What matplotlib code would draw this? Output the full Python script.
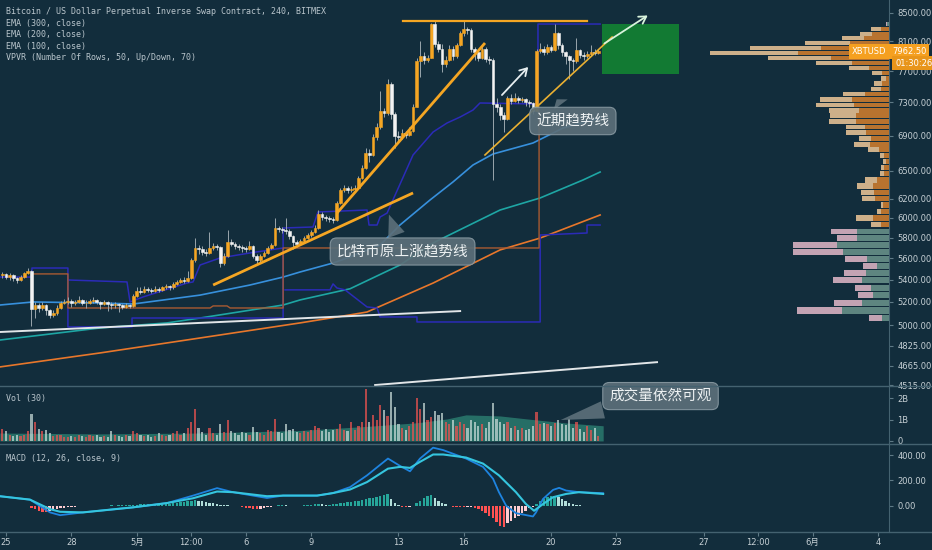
import numpy as np
import matplotlib
matplotlib.use('Agg')
import matplotlib.pyplot as plt
from matplotlib.lines import Line2D
from matplotlib.patches import Rectangle
from matplotlib.ticker import NullLocator, NullFormatter
from matplotlib.transforms import blended_transform_factory as btf

plt.rcParams['font.family'] = ['DejaVu Sans', 'Noto Sans CJK SC']

# ---------------- data (4h candles, first candle at day -1/6 from Apr 25) -------------
first_open = 5440
closes = [5450, 5430, 5445, 5420, 5400, 5430, 5460, 5480,
          5140, 5170, 5150, 5170, 5130, 5090, 5100, 5150, 5190, 5200,
          5210, 5190, 5200, 5215, 5190, 5195, 5210, 5220, 5200, 5180, 5200, 5180, 5170, 5185, 5170, 5160, 5175, 5165,
          5250, 5300, 5290, 5320, 5310, 5300, 5320, 5310, 5330, 5340, 5330, 5360, 5380, 5400, 5390, 5420,
          5580, 5700, 5690, 5660, 5650, 5700, 5720, 5710, 5560, 5620, 5760,
          5740, 5720, 5710, 5700, 5690, 5720, 5620, 5580, 5620, 5650, 5700, 5730,
          5900, 5890, 5880, 5870, 5820, 5760, 5740, 5770, 5800, 5830, 5860, 5900, 6040, 6010, 6000, 5990, 5980,
          6150, 6290, 6310, 6290, 6300, 6310, 6420, 6530, 6700, 6680, 6880, 7000, 7200, 7170, 7530, 7160, 6900, 6880, 6930, 6910, 6950, 7250,
          7840, 7900, 7850, 7880, 8340, 8060, 8000, 7800, 7850, 8000, 7900, 8050, 8210, 8270, 8260, 8000, 7950, 7880, 8000, 7860, 7850,
          7280, 7250, 7150, 7100, 7350, 7320, 7360, 7330, 7340, 7300, 7290, 7190,
          7970, 8000, 7960, 8020, 7980, 8210, 8050, 7950, 7900, 7850, 7830, 7980, 7920, 7900, 7930, 7950, 7940, 7962.5]
highs = [5470, 5465, 5460, 5455, 5430, 5445, 5475, 5510,
         5495, 5200, 5190, 5200, 5180, 5140, 5130, 5170, 5210, 5230,
         5240, 5225, 5220, 5250, 5230, 5215, 5225, 5240, 5230, 5210, 5215, 5210, 5200, 5200, 5195, 5185, 5190, 5185,
         5270, 5330, 5330, 5345, 5330, 5325, 5340, 5330, 5345, 5360, 5355, 5380, 5400, 5420, 5430, 5480,
         5600, 5800, 5730, 5720, 5690, 5860, 5750, 5740, 5720, 5650, 5880,
         5790, 5760, 5740, 5730, 5720, 5770, 5730, 5640, 5640, 5670, 5720, 5750,
         6000, 5920, 5910, 6000, 5890, 5830, 5780, 5790, 5820, 5850, 5880, 5930, 6080, 6060, 6030, 6020, 6010,
         6170, 6310, 6340, 6330, 6330, 6340, 6440, 6560, 6760, 6740, 6920, 7050, 7440, 7230, 7600, 7560, 7180, 6950, 6980, 6960, 7000, 7280,
         7880, 8100, 7950, 7920, 8360, 8380, 8100, 8060, 7900, 8050, 8030, 8080, 8250, 8400, 8300, 8280, 8020, 7990, 8040, 8020, 7900,
         7870, 7350, 7280, 7180, 7380, 7400, 7420, 7380, 7370, 7360, 7330, 7310,
         8000, 8080, 8030, 8060, 8050, 8340, 8230, 8080, 7970, 7920, 7880, 8150, 8000, 7960, 7970, 8050, 7990, 8000]
lows = [5420, 5410, 5400, 5390, 5370, 5390, 5420, 5450,
        4990, 5060, 5110, 5130, 5090, 5060, 5070, 5090, 5140, 5180,
        5180, 5160, 5170, 5190, 5170, 5150, 5180, 5195, 5180, 5140, 5170, 5120, 5140, 5150, 5110, 5140, 5145, 5150,
        5160, 5240, 5270, 5280, 5290, 5280, 5290, 5290, 5300, 5320, 5310, 5320, 5350, 5370, 5370, 5380,
        5410, 5570, 5640, 5630, 5620, 5640, 5680, 5680, 5520, 5540, 5610,
        5720, 5690, 5680, 5660, 5660, 5680, 5600, 5550, 5570, 5610, 5640, 5690,
        5720, 5860, 5850, 5840, 5790, 5690, 5710, 5730, 5760, 5790, 5810, 5850, 5890, 5980, 5970, 5960, 5950,
        5970, 6140, 6270, 6260, 6270, 6280, 6300, 6410, 6520, 6600, 6660, 6850, 6980, 7120, 7150, 7100, 6760, 6820, 6860, 6870, 6890, 6940,
        7240, 7620, 7800, 7820, 7870, 8020, 7950, 7690, 7760, 7840, 7850, 7880, 8030, 8180, 8200, 7960, 7850, 7830, 7860, 7820, 7800,
        6400, 7180, 7080, 6940, 7080, 7280, 7300, 7290, 7300, 7260, 7250, 7160,
        7180, 7940, 7920, 7930, 7950, 7970, 8000, 7900, 7800, 7600, 7700, 7810, 7870, 7850, 7880, 7900, 7920, 7930]
volumes = [0.55, 0.48, 0.3, 0.25, 0.3, 0.25, 0.3, 0.45,
           1.24, 0.87, 0.55, 0.45, 0.5, 0.35, 0.25, 0.3, 0.3, 0.2,
           0.2, 0.25, 0.2, 0.3, 0.25, 0.2, 0.3, 0.25, 0.3, 0.2, 0.25, 0.2, 0.45, 0.3, 0.25, 0.2, 0.3, 0.25,
           0.45, 0.35, 0.3, 0.25, 0.3, 0.2, 0.25, 0.35, 0.3, 0.25, 0.3, 0.35, 0.45, 0.3, 0.35, 0.6,
           0.87, 1.48, 0.6, 0.4, 0.3, 0.6, 0.35, 0.3, 0.79, 0.4, 0.97,
           0.45, 0.35, 0.3, 0.4, 0.35, 0.3, 0.65, 0.4, 0.35, 0.3, 0.5, 0.45,
           1.05, 0.4, 0.35, 0.8, 0.5, 0.55, 0.4, 0.35, 0.45, 0.4, 0.5, 0.7, 0.6, 0.45, 0.55, 0.4, 0.5,
           0.55, 0.8, 0.5, 0.45, 0.9, 0.5, 0.7, 0.9, 2.45, 0.9, 1.2, 1.0, 1.68, 1.47, 1.17, 2.3, 1.6, 0.8, 0.6, 0.5, 0.7, 0.9,
           2.0, 1.5, 1.77, 1.0, 1.1, 1.4, 1.2, 1.3, 0.9, 0.8, 1.0, 0.7, 0.9, 0.8, 0.6, 1.0, 0.9, 0.7, 0.8, 0.6, 0.9,
           1.77, 1.05, 0.9, 0.8, 0.9, 0.6, 0.7, 0.5, 0.6, 0.5, 0.55, 0.7,
           1.36, 0.8, 0.85, 0.8, 0.7, 0.85, 1.0, 0.8, 0.75, 1.05, 0.6, 0.9, 0.55, 0.4, 0.7, 0.5, 0.6, 0.25]
macd_hist = [-5, -5, -6, -5, -4, -5, -3, -2,
             -15, -30, -42, -48, -50, -45, -35, -28, -22, -18,
             -14, -10, -7, -5, -3, -2, 0, 1, 1, 0, -1, 1, 2, 1, 2, 3, 3, 4,
             6, 9, 11, 12, 13, 14, 14, 15, 15, 16, 17, 18, 22, 26, 30, 34,
             38, 42, 40, 35, 30, 24, 18, 12, 7, 3, 2,
             1, 0, -5, -10, -15, -20, -25, -27, -25, -20, -14, -8,
             -2, 2, 4, 3, 1, -2, -3, -1, 2, 5, 8, 10, 11, 10, 8, 9, 10,
             14, 18, 22, 26, 30, 34, 38, 44, 50, 58, 64, 72, 80, 86, 90, 50, 25, 8, -8, -12, -10, -6,
             20, 40, 60, 75, 85, 60, 40, 20, 10, -5, -8, -10, -12, -14, -12, -10, -20, -30, -45, -60, -80,
             -100, -130, -160, -165, -140, -120, -100, -80, -60, -40, -20, -8,
             15, 35, 55, 67, 78, 80, 72, 55, 35, 20, 12, 6, 3, -2, -3, -3, -2, -3]

macd_days = [-0.28, 1.10, 2.02, 2.48, 3.53, 5.83, 7.39, 8.58, 9.68, 10.41, 11.97, 12.71, 14.27, 15.0, 15.78, 16.56,
             17.52, 18.07, 18.53, 18.99, 19.59, 20.05, 21.1, 21.88, 22.34, 22.61, 22.94, 23.39, 24.17, 24.31, 24.63,
             25.09, 25.37, 25.69, 26.28, 27.39]
macd_line = [75, 48, -53, -75, -53, -13, 21, 80, 139, 107, 61, 80, 80, 100, 147, 240,
             373, 315, 272, 373, 459, 440, 373, 307, 213, 107, 0, -59, -85, -53, 53,
             125, 141, 120, 107, 99]
signal_days = [-0.28, 1.10, 2.02, 2.48, 3.53, 5.83, 7.39, 8.58, 9.68, 10.41, 11.97, 12.71, 14.27, 15.0, 15.78, 16.56,
               17.52, 18.07, 18.53, 18.99, 19.59, 20.05, 21.1, 21.88, 22.61, 23.39, 23.85, 24.22, 24.63, 25.09,
               25.69, 26.28, 27.39]
signal_line = [75, 48, -27, -48, -53, -13, 21, 59, 112, 107, 75, 80, 80, 100, 128, 187,
               293, 307, 299, 347, 405, 405, 381, 333, 240, 107, 13, -40, 13, 67,
               93, 107, 93]

vol_ma_days = [-0.28, 4.31, 8.90, 13.49, 16.56, 18.85, 20.23, 21.1, 22.66, 24.17, 25.69, 27.39]
vol_ma_vals = [0.37, 0.33, 0.37, 0.49, 0.68, 0.85, 1.03, 1.22, 1.17, 1.0, 0.84, 0.71]

ema100_days = [-0.28, 1.24, 4.31, 5.83, 8.90, 11.19, 12.71, 13.49, 15.00, 15.78, 17.16, 18.07, 19.45, 20.50,
               21.42, 22.34, 24.17, 25.55, 27.25]
ema100_vals = [5173, 5200, 5191, 5182, 5261, 5352, 5425, 5472, 5556, 5613, 5729, 5927, 6185, 6377,
               6564, 6688, 6814, 6990, 7110]
ema200_days = [-0.28, 4.31, 7.39, 8.90, 12.71, 13.49, 15.78, 18.07, 19.59, 22.66, 24.50, 26.47, 27.25]
ema200_vals = [4874, 4975, 5018, 5060, 5173, 5218, 5318, 5537, 5749, 6080, 6206, 6399, 6486]
ema300_days = [-0.28, 4.31, 8.90, 13.49, 15.78, 16.56, 19.59, 22.66, 24.50, 27.25]
ema300_vals = [4656, 4768, 4891, 5018, 5087, 5112, 5370, 5681, 5797, 6029]

# session value-area (navy) and POC (brown) step lines
va_line1_days = [-0.28, 1.19, 1.19, 2.84, 2.84, 5.78, 5.78, 12.71, 12.71, 14.08, 14.31, 16.56, 16.65, 17.02,
                 17.16, 17.48, 18.67, 19.59, 20.23, 20.83, 21.42, 21.74, 24.17, 24.40, 24.40, 27.25]
va_line1_vals = [5425, 5425, 5509, 5509, 4984, 4984, 5060, 5060, 5897, 5907, 6060, 6080, 5927, 5927,
                 6008, 6049, 6677, 6943, 7050, 7122, 7207, 7294, 7282, 7282, 8342, 8342]
va_line2_days = [2.84, 5.55, 5.69, 6.28, 8.30, 8.58, 8.90, 9.82, 11.19, 12.71]
va_line2_vals = [5398, 5380, 5200, 5244, 5370, 5380, 5537, 5604, 5652, 5700]
va_line3_days = [12.80, 14.86, 15.0, 15.18, 15.55, 16.56, 17.02, 17.16, 18.85, 18.85, 24.50, 24.50, 26.65, 26.65, 27.25]
va_line3_vals = [5308, 5308, 5362, 5325, 5308, 5156, 5147, 5069, 5069, 5026, 5026, 5827, 5847, 5927, 5927]
poc_days = [1.19, 2.84, 2.84, 9.36, 9.50, 10.14, 10.28, 12.71, 12.71, 24.45, 24.45]
poc_vals = [5454, 5454, 5147, 5147, 5165, 5165, 5147, 5147, 5700, 5700, 7244]

# visible-range volume profile: 50 rows
vp_low, vp_row = 5026, 67
vp_total = [20, 92, 55, 31, 34, 56, 45, 26, 44, 96, 96, 52, 58, 18, 33, 12, 8, 27, 28, 32,
            24, 9, 8, 6, 9, 21, 35, 30, 43, 43, 60, 59, 60, 73, 69, 46, 18, 15, 8, 17,
            40, 73, 121, 179, 139, 84, 47, 29, 18, 3]
vp_up = [7, 47, 27, 16, 18, 27, 23, 12, 22, 46, 52, 32, 32, 8, 16, 8, 6, 14, 15, 16,
         12, 5, 5, 3, 5, 10, 19, 18, 23, 24, 33, 33, 30, 35, 37, 24, 8, 7, 3, 7,
         20, 37, 58, 91, 68, 39, 25, 17, 8, 2]
vp_value_area = (13, 48)

price_ticks = [8500, 8100, 7700, 7300, 6900, 6500, 6200, 6000, 5800, 5600, 5400, 5200, 5000, 4825, 4665, 4515]
x_tick_days = [0, 3, 6, 8.5, 11, 14, 18, 21, 25, 28, 32, 34.5, 37, 40]
x_tick_labels = ['25', '28', '5月', '12:00', '6', '9', '13', '16', '20', '23', '27', '12:00', '6月', '4']
last_price = 7962.5

# ---------------- style ----------------
BG = '#122d3c'
TXT = '#c6d0d5'
SEP = '#446270'
UPC = '#f5a623'
DNC = '#f2f2f2'

W, H = 932, 550
fig = plt.figure(figsize=(W / 100, H / 100), dpi=100, facecolor=BG)


def rect(x0, y0, x1, y1):
    return [x0 / W, 1 - y1 / H, (x1 - x0) / W, (y1 - y0) / H]


ax = fig.add_axes(rect(0, 0, 889, 386))
axv = fig.add_axes(rect(0, 386, 889, 444), sharex=ax)
axm = fig.add_axes(rect(0, 444, 889, 532), sharex=ax)
for a in (ax, axv, axm):
    a.set_facecolor(BG)
    for s in ('left', 'top', 'bottom'):
        a.spines[s].set_visible(False)
    a.spines['right'].set_color(SEP)
    a.yaxis.tick_right()
    a.tick_params(axis='y', colors='#5f7a86', labelcolor=TXT, labelsize=6, length=3, pad=3)

n = len(closes)
t = (np.arange(n) - 1) / 6.0
c = np.array(closes, float)
o = np.r_[first_open, c[:-1]]
hi = np.array(highs, float)
lo = np.array(lows, float)
up = c >= o

# ---------------- main price panel ----------------
ax.set_yscale('log')
ax.set_ylim(4507.5, 8690)
ax.set_xlim(-0.275, 40.5)

ax.plot(ema300_days, ema300_vals, color='#e8772b', lw=1.2, zorder=2)
ax.plot(ema200_days, ema200_vals, color='#1ea6a4', lw=1.2, zorder=2)
ax.plot(ema100_days, ema100_vals, color='#3790dc', lw=1.2, zorder=2)

ax.plot(va_line1_days, va_line1_vals, color='#2b2bb8', lw=1.1, zorder=2.5)
ax.plot(va_line2_days, va_line2_vals, color='#2b2bb8', lw=1.1, zorder=2.5)
ax.plot(va_line3_days, va_line3_vals, color='#2b2bb8', lw=1.1, zorder=2.5)
ax.plot(poc_days, poc_vals, color='#a85a32', lw=1.0, zorder=2.5)

cols = np.where(up, UPC, DNC)
ax.vlines(t, lo, hi, color='#9aa6ad', lw=0.7, zorder=3)
ax.bar(t, np.abs(c - o), bottom=np.minimum(o, c), width=0.125, color=cols, edgecolor=cols, lw=0.4, zorder=4)

# drawings
ax.plot([9.50, 18.67], [5352, 6259], color=UPC, lw=2.0, zorder=5, solid_capstyle='butt')
ax.plot([15.18, 21.97], [6049, 8077], color=UPC, lw=2.0, zorder=5, solid_capstyle='butt')
ax.plot([18.21, 26.65], [8385, 8385], color=UPC, lw=1.6, zorder=5)
ax.plot([21.97, 27.80], [6677, 8160], color='#e9b032', lw=1.2, zorder=5)
ax.plot([-0.28, 20.83], [4941, 5120], color='#e2e6e8', lw=1.4, zorder=5)
ax.plot([16.93, 29.86], [4515, 4694], color='#e2e6e8', lw=1.4, zorder=5)
ax.add_patch(Rectangle((27.34, 7662), 30.87 - 27.34, 8342 - 7662, fc='#127a33', ec='none', zorder=3))
ax.annotate('', xy=(24.04, 7781), xytext=(22.66, 7368),
            arrowprops=dict(arrowstyle='->,head_length=0.5,head_width=0.3', color='#e6eef0', lw=1.3), zorder=6)
ax.annotate('', xy=(29.54, 8486), xytext=(27.34, 8050),
            arrowprops=dict(arrowstyle='->,head_length=0.5,head_width=0.3', color='#d8f3dc', lw=1.3), zorder=6)

box_fc = '#5b6f79'
box_ec = '#8798a1'
cjk = ['Noto Sans CJK SC', 'DejaVu Sans']


def callout(a, text, tip, center):
    a.annotate(text, xy=tip, xytext=center, ha='center', va='center', fontsize=10.5, family=cjk,
               color='#eef2f3', zorder=15, annotation_clip=False,
               bbox=dict(boxstyle='round,pad=0.45', fc=box_fc, ec=box_ec, lw=0.8, alpha=0.92),
               arrowprops=dict(arrowstyle='wedge,tail_width=1.2,shrink_factor=0.5', fc=box_fc, ec='none',
                               alpha=0.92))


callout(ax, '比特币原上涨趋势线', (17.52, 6060), (18.19, 5666))
callout(ax, '近期趋势线', (25.18, 7368), (26.0, 7074))

ax.set_yticks(price_ticks)
ax.set_yticklabels([f'{v:.2f}' for v in price_ticks])
ax.yaxis.set_minor_locator(NullLocator())
ax.yaxis.set_minor_formatter(NullFormatter())

# volume profile overlay
axp = ax.twiny()
axp.set_xlim(889, 0)
axp.set_xticks([])
axp.tick_params(top=False, labeltop=False, bottom=False, labelbottom=False)
for s in axp.spines.values():
    s.set_visible(False)
centers = [vp_low + vp_row * (k + 0.5) for k in range(len(vp_total))]
in_va = [vp_value_area[0] <= k <= vp_value_area[1] for k in range(len(vp_total))]
dn_cols = ['#cdb08a' if v else '#c3a3b3' for v in in_va]
up_cols = ['#b8732f' if v else '#5e8580' for v in in_va]
axp.barh(centers, vp_total, height=vp_row * 0.84, left=0, color=dn_cols, lw=0, zorder=2)
axp.barh(centers, vp_up, height=vp_row * 0.84, left=0, color=up_cols, lw=0, zorder=3)

trp = btf(axp.transAxes, axp.transData)
axp.text(1 + 3 / 889, last_price, '7962.50', transform=trp, ha='left', va='center', fontsize=6, color='white',
         bbox=dict(boxstyle='square,pad=0.35', fc='#f5a020', ec='none'), clip_on=False, zorder=20)
axp.text(886 / 889, last_price, 'XBTUSD', transform=trp, ha='right', va='center', fontsize=6, color='white',
         bbox=dict(boxstyle='square,pad=0.35', fc='#f5a020', ec='none'), clip_on=False, zorder=20)
axp.text(1 + 6 / 889, 7807, '01:30:26', transform=trp, ha='left', va='center', fontsize=6, color='white',
         bbox=dict(boxstyle='square,pad=0.35', fc='#e8951a', ec='none'), clip_on=False, zorder=20)

ax.tick_params(axis='x', bottom=False, labelbottom=False, top=False, labeltop=False)

# ---------------- volume panel ----------------
axv.set_ylim(-0.143, 2.571)
axv.fill_between(vol_ma_days, vol_ma_vals, 0, color='#2e8575', alpha=0.75, lw=0, zorder=1)
vcols = np.where(up, '#ef5350', '#c9dcd8')
axv.bar(t, volumes, width=0.1, color=vcols, alpha=0.72, lw=0, zorder=2)
axv.set_yticks([0, 1, 2])
axv.set_yticklabels(['0', '1B', '2B'])
axv.tick_params(axis='x', bottom=False, labelbottom=False)
callout(axv, '成交量依然可观', (25.32, 0.95), (30.02, 2.10))

# ---------------- MACD panel ----------------
axm.set_ylim(-208, 488)
hcols = []
for i, h in enumerate(macd_hist):
    prev = macd_hist[i - 1] if i > 0 else h
    if h >= 0:
        hcols.append('#26a69a' if h >= prev else '#b2dfdb')
    else:
        hcols.append('#ff5252' if h < prev else '#ffcdd2')
axm.bar(t, macd_hist, width=0.11, color=hcols, lw=0, zorder=2)
axm.plot(macd_days, macd_line, color='#1e84e0', lw=1.3, zorder=3)
axm.plot(signal_days, signal_line, color='#35c5de', lw=1.5, zorder=3)
axm.set_yticks([0, 200, 400])
axm.set_yticklabels(['0.00', '200.00', '400.00'])
axm.set_xticks(x_tick_days)
axm.set_xticklabels(x_tick_labels)
axm.tick_params(axis='x', colors='#5f7a86', labelcolor=TXT, labelsize=6, length=3, pad=1.5)

# ---------------- separators & labels ----------------
for yp in (386, 444, 532):
    fig.add_artist(Line2D([0, 1], [1 - yp / H] * 2, color=SEP, lw=1.0))

legend_lines = ['Bitcoin / US Dollar Perpetual Inverse Swap Contract, 240, BITMEX',
                'EMA (300, close)', 'EMA (200, close)', 'EMA (100, close)',
                'VPVR (Number Of Rows, 50, Up/Down, 70)']
for k, s in enumerate(legend_lines):
    fig.text(6 / W, 1 - (12 + 11.5 * k) / H, s, fontsize=6, family='DejaVu Sans Mono', color='#b9c5cc',
             va='center', ha='left')
fig.text(6 / W, 1 - 399 / H, 'Vol (30)', fontsize=6, family='DejaVu Sans Mono', color='#b9c5cc', va='center')
fig.text(6 / W, 1 - 458 / H, 'MACD (12, 26, close, 9)', fontsize=6, family='DejaVu Sans Mono', color='#b9c5cc',
         va='center')

fig.savefig('out.png', dpi=100, facecolor=BG)
